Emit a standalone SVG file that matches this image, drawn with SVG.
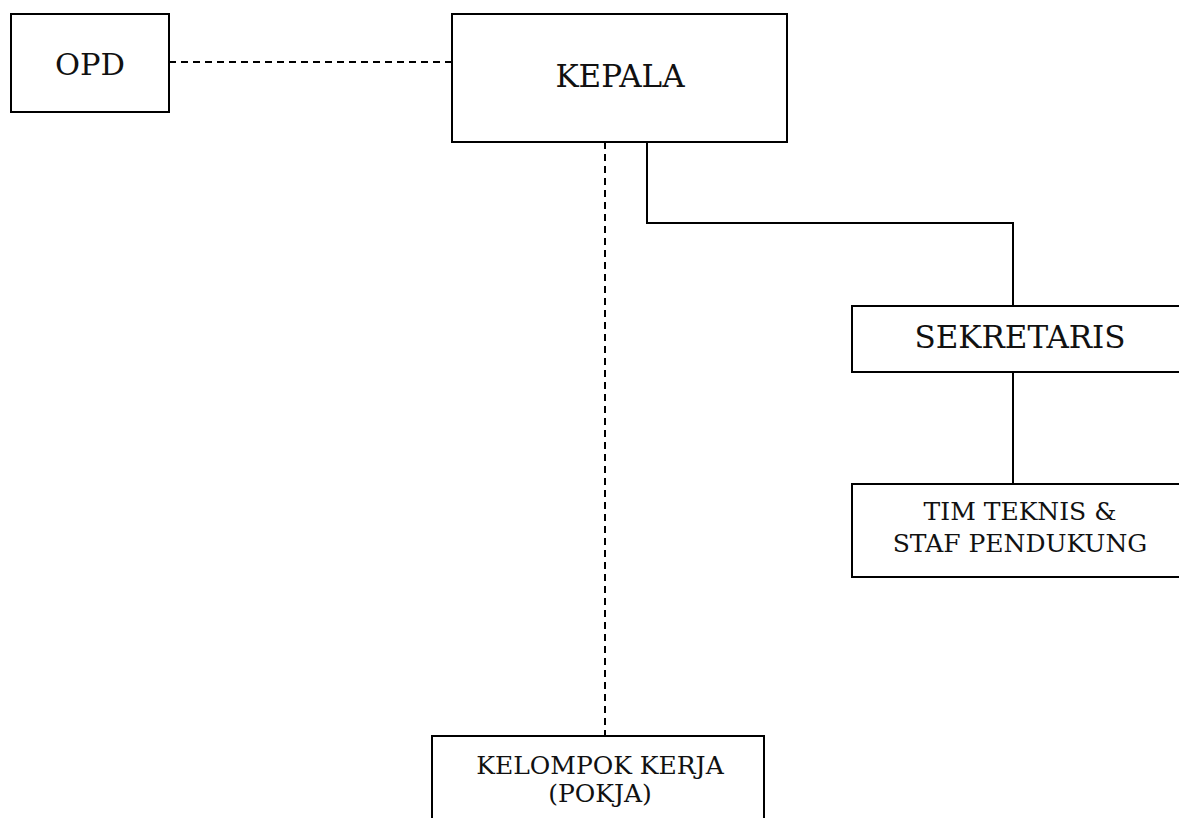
<svg xmlns="http://www.w3.org/2000/svg" width="1179" height="818" viewBox="0 0 1179 818">
<style>
.box{fill:#fff;stroke:#000;stroke-width:2}
.t{font-family:"DejaVu Serif","Liberation Serif",serif;fill:#111;text-anchor:middle}
.solid{fill:none;stroke:#000;stroke-width:2}
.dash{fill:none;stroke:#000;stroke-width:2;stroke-dasharray:7 5}
</style>
<rect width="1179" height="818" fill="#fff"/>
<g id="connectors">
<line class="dash" x1="169" y1="62" x2="452" y2="62"/>
<line class="dash" x1="605" y1="142" x2="605" y2="736"/>
<polyline class="solid" points="647,142 647,223 1013,223 1013,306"/>
<line class="solid" x1="1013" y1="372" x2="1013" y2="484"/>
</g>
<g id="opd">
<rect class="box" x="11" y="14" width="158" height="98"/>
<text class="t" x="90" y="75" font-size="30.5">OPD</text>
</g>
<g id="kepala">
<rect class="box" x="452" y="14" width="335" height="128"/>
<text class="t" x="620" y="87" font-size="31">KEPALA</text>
</g>
<g id="sekretaris">
<rect class="box" x="852" y="306" width="336" height="66"/>
<text class="t" x="1020" y="348" font-size="31">SEKRETARIS</text>
</g>
<g id="tim">
<rect class="box" x="852" y="484" width="336" height="93"/>
<text class="t" x="1020" y="520" font-size="25">TIM TEKNIS &amp;</text>
<text class="t" x="1020" y="552" font-size="25">STAF PENDUKUNG</text>
</g>
<g id="pokja">
<rect class="box" x="432" y="736" width="332" height="100"/>
<text class="t" x="600" y="774" font-size="25">KELOMPOK KERJA</text>
<text class="t" x="600" y="802" font-size="25">(POKJA)</text>
</g>
</svg>
